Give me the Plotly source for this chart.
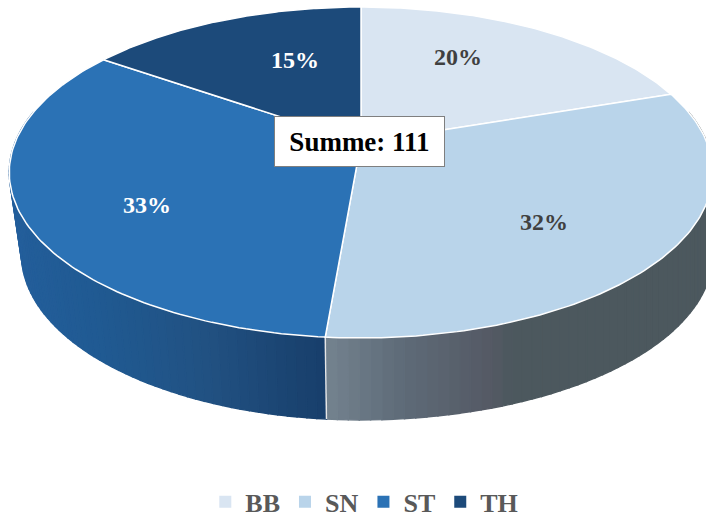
import numpy as np
import plotly.graph_objects as go

categories = ["BB", "SN", "ST", "TH"]
values = [22, 35, 37, 17]
top_colors = ["#d9e5f2", "#b9d4ea", "#2b72b5", "#1c4a7a"]
label_colors = ["#404040", "#404040", "#ffffff", "#ffffff"]
label_text = ["20%", "32%", "33%", "15%"]
total_label = "Summe: 111"

FONT = "Liberation Serif"
W, H = 706, 518
CX, CY, A, B, K = 361.0, 142.7, 346.0, 160.1, 0.18
DEPTH, SHRINK_LEFT, SHRINK_RIGHT = 82.0, 0.965, 1.0

# side gradient: (screen x, colour)
side_stops = {
    1: ([326, 400, 490, 512, 706], ["#74838f", "#5f6c79", "#555a65", "#4c585e", "#4c585e"]),
    2: ([0, 100, 200, 326], ["#245f9c", "#205a92", "#225283", "#183f6b"]),
}


def project(theta, r=1.0):
    u, v = r * np.sin(theta), r * np.cos(theta)
    w = 1 + K * v
    return CX + A * u / w, CY - B * v / w


def lower(x, y):
    s = SHRINK_RIGHT if x > CX else SHRINK_LEFT
    return CX + (x - CX) * s, y + DEPTH


def mix(stops, x):
    xs, cols = stops
    rgb = [[int(c[i:i + 2], 16) for c in cols] for i in (1, 3, 5)]
    return "rgb(%d,%d,%d)" % tuple(np.interp(x, xs, ch) for ch in rgb)


frac = np.array(values) / sum(values)
edges = np.concatenate([[0], np.cumsum(frac)]) * 2 * np.pi

fig = go.Figure()


def poly(x, y, color, line=None, width=0):
    fig.add_trace(go.Scatter(
        x=x, y=y, mode="lines", fill="toself", fillcolor=color,
        line=dict(color=line or color, width=width or 1.4),
        hoverinfo="skip", showlegend=False))


# sides (visible lower half only)
for i in (1, 2):
    a0, a1 = max(edges[i], np.pi / 2 - 0.2), min(edges[i + 1], 3 * np.pi / 2 + 0.2)
    ts = np.linspace(a0, a1, 70)
    for t0, t1 in zip(ts[:-1], ts[1:]):
        x0, y0 = project(t0)
        x1, y1 = project(t1)
        bx0, by0 = lower(x0, y0)
        bx1, by1 = lower(x1, y1)
        poly([x0, x1, bx1, bx0, x0], [y0, y1, by1, by0, y0], mix(side_stops[i], (x0 + x1) / 2))

# edge between the two sides
x0, y0 = project(edges[2])
bx, by = lower(x0, y0)
fig.add_trace(go.Scatter(x=[x0, bx], y=[y0, by], mode="lines",
                         line=dict(color="#e6e6e6", width=1.5),
                         hoverinfo="skip", showlegend=False))

# top slices
cx0, cy0 = project(0.0, 0.0)
for i, c in enumerate(top_colors):
    ts = np.linspace(edges[i], edges[i + 1], 120)
    xs, ys = project(ts)
    poly(np.r_[cx0, xs, cx0], np.r_[cy0, ys, cy0], c, line="#ffffff", width=1.5)

# legend
for name, c in zip(categories, top_colors):
    fig.add_trace(go.Scatter(x=[None], y=[None], mode="markers", name=name,
                             marker=dict(symbol="square", size=12, color=c)))

label_xy = [(458, 57), (544, 222), (147, 205), (295, 60)]
anns = [dict(x=x, y=y, text=t, showarrow=False, xref="x", yref="y",
             font=dict(family=FONT, size=24, color=col, weight="bold"))
        for (x, y), t, col in zip(label_xy, label_text, label_colors)]
anns.append(dict(x=359.5, y=141.5, text=total_label, showarrow=False, xref="x", yref="y",
                 font=dict(family=FONT, size=27, color="#000000", weight="bold"),
                 bgcolor="#ffffff", bordercolor="#7f7f7f", borderwidth=1,
                 width=167, height=47, align="center", valign="middle"))

fig.update_layout(
    width=W, height=H, margin=dict(l=0, r=0, t=0, b=0, autoexpand=False),
    paper_bgcolor="#ffffff", plot_bgcolor="#ffffff",
    xaxis=dict(range=[0, W], visible=False, fixedrange=True),
    yaxis=dict(range=[H, 0], visible=False, fixedrange=True),
    annotations=anns,
    legend=dict(orientation="h", x=0.516, xanchor="center", y=-0.014, yanchor="bottom",
                font=dict(family=FONT, size=26, color="#595959", weight="bold"),
                itemwidth=30, traceorder="normal"),
)
fig.write_html("out.html", config={"displayModeBar": False},
               post_script="document.body.style.margin='0';document.body.style.overflow='hidden';")
